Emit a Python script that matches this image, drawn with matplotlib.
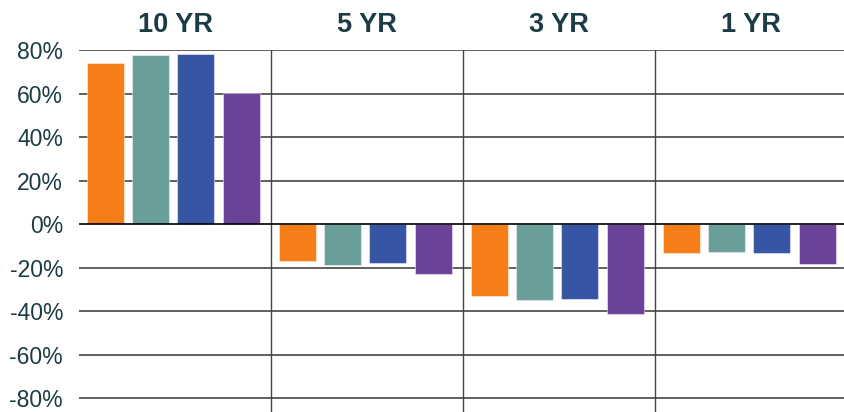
import numpy as np
import matplotlib.pyplot as plt

plt.rcParams["font.family"] = ["Liberation Sans", "DejaVu Sans"]

# Data (percent)
periods = ["10 YR", "5 YR", "3 YR", "1 YR"]
series_a = [74.0, -17.0, -32.9, -13.3]   # orange
series_b = [77.8, -18.5, -35.0, -12.8]   # teal
series_c = [78.3, -17.6, -34.1, -13.0]   # blue
series_d = [60.4, -22.8, -41.1, -18.3]   # purple
y_ticks = [80, 60, 40, 20, 0, -20, -40, -60, -80]

colors = ["#F57E18", "#6A9E98", "#3755A4", "#6A4297"]
text_color = "#1B3C44"


def main():
    fig = plt.figure(figsize=(8.45, 4.12), dpi=100)
    ax = fig.add_axes([0.0935, 0.0, 0.909, 0.8786])

    x = np.arange(len(periods))
    width = 0.193
    step = 0.236
    all_series = [series_a, series_b, series_c, series_d]
    for i, (vals, c) in enumerate(zip(all_series, colors)):
        ax.bar(x + (i - 1.5) * step - 0.01, vals, width=width, color=c,
               edgecolor=(1, 1, 1, 0.45), linewidth=0.8, zorder=3)

    ax.set_xlim(-0.5, len(periods) - 0.5)
    ax.set_ylim(-86.2, 80)

    # horizontal grid and group separators
    for t in y_ticks:
        ax.axhline(t, color="#000000" if t == 0 else "#444444",
                   lw=1.2, zorder=2 if t != 0 else 4)
    for sep in x[:-1] + 0.5:
        ax.axvline(sep, color="#444444", lw=1.0, zorder=2)

    for s in ax.spines.values():
        s.set_visible(False)
    ax.set_xticks([])
    ax.set_yticks(y_ticks)
    ax.set_yticklabels([f"{t}%" for t in y_ticks])
    ax.tick_params(axis="y", length=0, pad=11.5, labelsize=16.5,
                   labelcolor=text_color)

    for xi, name in zip(x, periods):
        ax.text(xi, 91.5, name, ha="center", va="center", fontsize=19.5,
                fontweight="bold", color=text_color, clip_on=False)

    fig.savefig("out.png", dpi=100)


if __name__ == "__main__":
    main()
